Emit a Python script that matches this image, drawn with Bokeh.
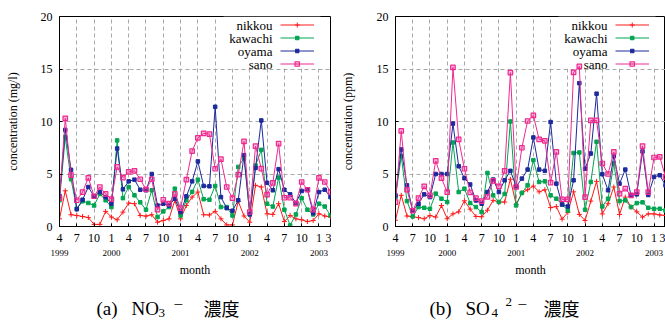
from bokeh.plotting import figure
from bokeh.layouts import row, column
from bokeh.models import FixedTicker, BoxAnnotation, Range1d, LinearAxis
from bokeh.core.properties import value
from bokeh.embed import file_html
from bokeh.resources import INLINE

# ---------------- data ----------------
months = list(range(48))  # 0 = April 1999 ... 47 = March 2003
tick_pos = [0, 3, 6, 9, 12, 15, 18, 21, 24, 27, 30, 33, 36, 39, 42, 45, 47]
tick_labels = ["4", "7", "10", "1", "4", "7", "10", "1", "4", "7", "10", "1",
               "4", "7", "10", "1", "3"]
year_pos = [0, 9, 21, 33, 45]
year_labels = ["1999", "2000", "2001", "2002", "2003"]
y_ticks = [0, 5, 10, 15, 20]
stations = ["nikkou", "kawachi", "oyama", "sano"]

no3_nikkou = [0.73, 3.4, 1.12, 1.05, 0.95, 0.85, 0.2, 0.2, 1.44, 0.9, 0.64, 1.37,
              2.23, 2.17, 1.05, 0.99, 1.12, 0.41, 0.57, 0.73, 2.49, 0.73, 2.0, 2.8,
              3.28, 1.12, 1.1, 1.44, 0.73, 0.15, 0.15, 2.39, 1.0, 0.41, 3.92, 3.76,
              1.21, 1.15, 2.17, 0.47, 1.05, 0.73, 0.64, 0.47, 0.57, 1.21, 1.0, 0.9]
no3_kawachi = [2.5, 8.5, 4.5, 1.7, 2.4, 2.24, 2.0, 3.1, 2.5, 1.85, 8.2, 2.7,
               3.76, 2.97, 2.3, 1.6, 3.45, 0.9, 1.44, 1.85, 3.6, 1.05, 2.5, 3.3,
               4.46, 2.6, 2.55, 3.86, 1.85, 1.85, 1.05, 5.67, 6.5, 1.2, 5.8, 7.3,
               2.17, 1.9, 4.66, 1.6, 0.1, 1.15, 2.7, 1.6, 1.15, 2.17, 1.9, 1.05]
no3_oyama = [2.9, 9.2, 5.4, 1.64, 2.55, 3.76, 2.86, 3.28, 2.8, 2.17, 7.43, 3.54,
             4.3, 4.46, 3.5, 3.45, 5.0, 2.0, 2.17, 2.0, 2.65, 1.38, 2.87, 4.3,
             6.2, 3.86, 3.83, 11.4, 2.8, 1.75, 1.5, 2.5, 6.8, 1.15, 5.58, 10.1,
             4.16, 3.45, 5.46, 3.5, 3.06, 2.24, 3.38, 3.54, 1.27, 3.28, 3.5, 2.8]
no3_sano = [2.7, 10.3, 4.9, 2.5, 3.28, 4.63, 2.88, 3.76, 3.1, 2.6, 5.67, 4.66,
            5.2, 5.3, 4.5, 3.54, 4.5, 1.6, 2.55, 2.17, 3.1, 1.75, 4.46, 7.18,
            8.45, 8.87, 8.8, 5.5, 6.41, 3.76, 2.71, 4.94, 8.1, 1.38, 7.65, 5.52,
            3.03, 4.16, 7.9, 2.74, 2.74, 2.17, 4.24, 3.5, 1.6, 4.63, 4.24, 3.3]

so4_nikkou = [0.6, 2.97, 1.0, 0.93, 0.85, 0.74, 1.05, 0.9, 2.0, 0.74, 1.2, 1.4,
              2.45, 1.65, 0.96, 0.93, 1.55, 2.49, 2.33, 2.33, 4.5, 2.1, 3.2, 3.5,
              3.85, 3.3, 3.5, 1.8, 1.9, 0.7, 1.34, 3.3, 1.15, 0.57, 2.42, 4.3,
              1.2, 2.17, 3.76, 1.15, 2.8, 1.85, 1.4, 0.9, 1.2, 1.2, 1.1, 1.05]
so4_kawachi = [2.8, 6.7, 2.42, 0.96, 1.85, 1.78, 1.69, 3.13, 2.65, 2.33, 8.0, 3.28,
               3.6, 2.23, 1.85, 1.37, 5.1, 2.97, 2.33, 3.1, 10.0, 2.01, 3.2, 3.92,
               6.32, 4.24, 4.3, 2.97, 2.65, 2.1, 1.53, 7.0, 7.05, 1.6, 4.24, 8.07,
               1.91, 2.65, 6.0, 2.42, 2.49, 1.85, 2.23, 2.3, 1.78, 1.69, 1.69, 1.53]
so4_oyama = [2.97, 7.34, 3.92, 1.53, 2.17, 3.06, 2.8, 5.0, 5.0, 5.0, 9.8, 5.74,
             4.6, 4.0, 2.48, 2.17, 3.28, 4.47, 3.28, 4.4, 5.3, 3.83, 4.56, 5.42,
             8.48, 5.42, 5.3, 9.95, 4.08, 2.1, 1.91, 4.4, 13.65, 5.5, 6.95, 12.65,
             4.98, 3.45, 6.7, 4.08, 5.42, 2.97, 3.06, 7.15, 3.0, 4.72, 4.88, 3.92]
so4_sano = [2.33, 9.1, 3.5, 1.5, 2.71, 3.83, 2.97, 6.25, 4.6, 3.27, 15.15, 8.3,
            5.5, 3.25, 2.7, 2.42, 2.83, 4.35, 3.83, 5.3, 14.65, 3.76, 7.5, 10.05,
            10.58, 8.3, 8.16, 4.18, 7.1, 2.58, 2.58, 14.67, 15.25, 2.8, 10.1, 10.1,
            6.0, 5.0, 7.1, 3.13, 3.6, 2.97, 3.28, 7.66, 3.28, 6.57, 6.64, 4.72]

no3_data = [no3_nikkou, no3_kawachi, no3_oyama, no3_sano]
so4_data = [so4_nikkou, so4_kawachi, so4_oyama, so4_sano]

# ---------------- styles ----------------
SERIF = "Liberation Serif"
CJK = "Noto Sans CJK JP"
COLORS = ["#ff1a1a", "#00a550", "#1c2a9c", "#ee2a90"]
MARKERS = ["cross", "square", "square", "square"]
MSIZE = [5, 3.5, 3.5, 4.5]
FILL_ALPHA = [1.0, 1.0, 1.0, 0.35]
GRID_COLOR = "#a8a8a8"

HM = 288            # main chart height
HC = 34             # caption strip height
BT, BB = 16, 62
X_MAX, Y_MAX = 47, 20


def panel(data, ylabel, width, bl, br, ylab_standoff):
    p = figure(width=width, height=HM, x_range=Range1d(0, X_MAX), y_range=Range1d(0, Y_MAX),
               min_border_left=bl, min_border_right=br, min_border_top=BT,
               min_border_bottom=BB, output_backend="svg", toolbar_location=None)
    fw = width - bl - br
    fh = HM - BT - BB
    sx = X_MAX / fw   # data units per pixel
    sy = Y_MAX / fh

    p.outline_line_color = "black"
    p.outline_line_width = 1
    p.background_fill_color = "white"
    p.border_fill_color = "white"

    # main axes
    xax = p.below[0]
    xax.ticker = FixedTicker(ticks=tick_pos)
    xax.major_label_overrides = {t: l for t, l in zip(tick_pos, tick_labels)}
    yax = p.left[0]
    yax.ticker = FixedTicker(ticks=y_ticks)
    for ax in (xax, yax):
        ax.major_label_text_font = SERIF
        ax.major_label_text_font_size = "12px"
        ax.major_label_text_color = "black"
        ax.major_tick_in = 3
        ax.major_tick_out = 0
        ax.minor_tick_in = 0
        ax.minor_tick_out = 0
        ax.axis_line_color = "black"
        ax.major_tick_line_color = "black"
        ax.axis_label_text_font = SERIF
        ax.axis_label_text_font_style = "normal"
        ax.axis_label_text_color = "black"
        ax.major_label_standoff = 7
    yax.axis_label = ylabel
    yax.axis_label_text_font_size = "12px"
    yax.axis_label_standoff = ylab_standoff

    # second x axis: year labels + "month"
    year_ax = LinearAxis(ticker=FixedTicker(ticks=year_pos),
                         major_label_overrides={t: l for t, l in zip(year_pos, year_labels)},
                         major_label_text_font=SERIF, major_label_text_font_size="9px",
                         major_label_text_color="black", major_label_standoff=5,
                         major_tick_in=0, major_tick_out=0, minor_tick_in=0, minor_tick_out=0,
                         axis_line_color=None, major_tick_line_color=None,
                         minor_tick_line_color=None,
                         axis_label="month", axis_label_text_font=SERIF,
                         axis_label_text_font_style="normal", axis_label_text_font_size="12px",
                         axis_label_text_color="black", axis_label_standoff=4)
    p.add_layout(year_ax, "below")

    # grid
    p.xgrid.ticker = FixedTicker(ticks=tick_pos)
    p.ygrid.ticker = FixedTicker(ticks=y_ticks)
    for g in (p.xgrid, p.ygrid):
        g.grid_line_color = GRID_COLOR
        g.grid_line_dash = "4 3"
        g.grid_line_width = 1
        g.level = "image"

    # legend background box (gnuplot-style key)
    p.add_layout(BoxAnnotation(left=X_MAX - 107 * sx, right=X_MAX - 10 * sx,
                               bottom=Y_MAX - 52 * sy, top=Y_MAX,
                               fill_color="white", fill_alpha=1.0, line_color=None,
                               level="underlay"))

    # series
    for k, vals in enumerate(data):
        p.line(months, vals, line_color=COLORS[k], line_width=1)
        p.scatter(months, vals, marker=MARKERS[k], size=MSIZE[k],
                  line_color=COLORS[k], fill_color=COLORS[k],
                  fill_alpha=FILL_ALPHA[k], line_width=1.2 if k == 3 else 1)

    # legend entries: text then sample
    x_text = X_MAX - 58 * sx
    x_l0, x_l1 = X_MAX - 50 * sx, X_MAX - 16.5 * sx
    ys = [Y_MAX - (8.5 + 13 * k) * sy for k in range(len(stations))]
    p.text(x=[x_text] * len(stations), y=ys, text=stations, text_align="right",
           text_baseline="middle", text_font=value(SERIF), text_font_size="13px",
           text_color="black")
    for k, yv in enumerate(ys):
        p.line([x_l0, x_l1], [yv, yv], line_color=COLORS[k], line_width=1)
        p.scatter([(x_l0 + x_l1) / 2], [yv], marker=MARKERS[k], size=MSIZE[k],
                  line_color=COLORS[k], fill_color=COLORS[k],
                  fill_alpha=FILL_ALPHA[k], line_width=1.2 if k == 3 else 1)
    return p


def caption(parts, width):
    c = figure(width=width, height=HC, x_range=Range1d(0, width), y_range=Range1d(0, HC),
               min_border=0, output_backend="svg", toolbar_location=None)
    c.axis.visible = False
    c.grid.visible = False
    c.outline_line_color = None
    c.background_fill_color = "white"
    c.border_fill_color = "white"
    for txt, x, y, size, font in parts:
        c.text(x=[x], y=[y], text=[txt], text_align="left", text_baseline="alphabetic",
               text_font=value(font), text_font_size=size, text_color="black")
    return c


# caption pieces: (text, x px from strip left, baseline px from strip bottom, size, font)
cap_a = [("(a)", 96, 14, "19px", SERIF),
         ("NO", 131, 14, "19px", SERIF),
         ("3", 158, 10, "13px", SERIF),
         ("\u2212", 173, 18, "17px", SERIF),
         ("濃度", 203, 15, "18px", CJK)]
cap_b = [("(b)", 98, 14, "19px", SERIF),
         ("SO", 134, 14, "19px", SERIF),
         ("4", 160, 10, "13px", SERIF),
         ("2", 174, 21, "13px", SERIF),
         ("\u2212", 186, 18, "17px", SERIF),
         ("濃度", 212, 15, "18px", CJK)]

W1, W2 = 331, 334
p1 = panel(no3_data, "concentration (mg/l)", W1, 59, 1, 18)
p2 = panel(so4_data, "concentration (ppm)", W2, 64, 0, 19)
c1 = caption(cap_a, W1)
c2 = caption(cap_b, W2)

layout = column(row(p1, p2), row(c1, c2))
open("out.html", "w").write(file_html(layout, INLINE))
